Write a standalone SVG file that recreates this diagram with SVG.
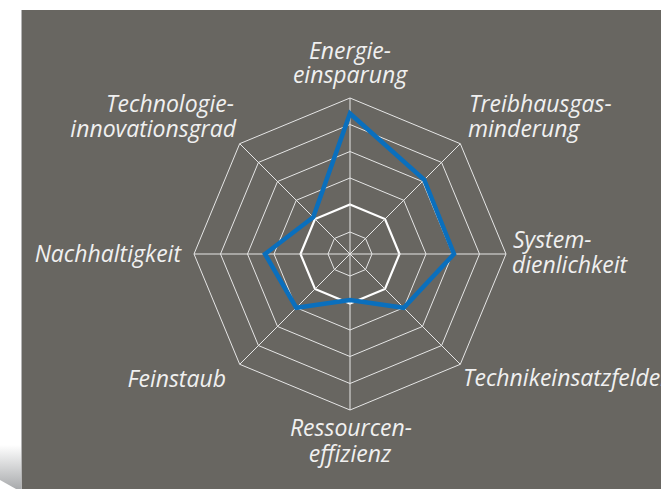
<svg xmlns="http://www.w3.org/2000/svg" width="661" height="489" viewBox="0 0 661 489">
<defs>
<linearGradient id="curl" x1="0" y1="0" x2="0" y2="1">
<stop offset="0" stop-color="#ffffff"/>
<stop offset="1" stop-color="#a9abad"/>
</linearGradient>
<style>
.lbl{font-family:"Open Sans","DejaVu Sans",sans-serif;font-style:italic;font-size:23px;fill:#f0f0f0}
.ring{fill:none;stroke:#e6e6e6;stroke-width:1}
.ring2{fill:none;stroke:#ffffff;stroke-width:2.2}
.spoke{stroke:#e6e6e6;stroke-width:1}
.data{fill:none;stroke:#0a6fbd;stroke-width:4.5;stroke-linejoin:miter}
</style>
</defs>
<rect x="0" y="0" width="661" height="489" fill="#ffffff"/>
<path d="M0,445 L22,445 L22,489 L16,489 L0,480 Z" fill="url(#curl)"/>
<rect x="22" y="10" width="639" height="479" fill="#686661"/>
<line x1="21.5" y1="10" x2="21.5" y2="489" stroke="#b5b5b5" stroke-width="1"/>
<g id="grid">
<polygon class="ring" points="350,98 460.31,143.69 506,254 460.31,364.31 350,410 239.69,364.31 194,254 239.69,143.69"/>
<polygon class="ring" points="350,124.5 441.57,162.43 479.5,254 441.57,345.57 350,383.5 258.43,345.57 220.5,254 258.43,162.43"/>
<polygon class="ring" points="350,151.5 422.48,181.52 452.5,254 422.48,326.48 350,356.5 277.52,326.48 247.5,254 277.52,181.52"/>
<polygon class="ring" points="350,178 403.74,200.26 426,254 403.74,307.74 350,330 296.26,307.74 274,254 296.26,200.26"/>
<polygon class="ring2" points="350,204.5 385,219 399.5,254 385,289 350,303.5 315,289 300.5,254 315,219"/>
<polygon class="ring" points="350,232 365.56,238.44 372,254 365.56,269.56 350,276 334.44,269.56 328,254 334.44,238.44"/>
<line class="spoke" x1="350" y1="254" x2="350" y2="98"/>
<line class="spoke" x1="350" y1="254" x2="460.31" y2="143.69"/>
<line class="spoke" x1="350" y1="254" x2="506" y2="254"/>
<line class="spoke" x1="350" y1="254" x2="460.31" y2="364.31"/>
<line class="spoke" x1="350" y1="254" x2="350" y2="410"/>
<line class="spoke" x1="350" y1="254" x2="239.69" y2="364.31"/>
<line class="spoke" x1="350" y1="254" x2="194" y2="254"/>
<line class="spoke" x1="350" y1="254" x2="239.69" y2="143.69"/>
</g>
<g id="series">
<polygon class="data" points="350,113.5 424.25,179.75 454,254 403.74,307.74 350,300 296.26,307.74 265,254 313.23,217.23"/>
</g>
<g id="label-energie"><text class="lbl" x="350" y="59" text-anchor="middle">Energie-</text><text class="lbl" x="350" y="83" text-anchor="middle">einsparung</text></g>
<g id="label-treibhaus"><text class="lbl" x="469" y="112">Treibhausgas-</text><text class="lbl" x="468" y="137">minderung</text></g>
<g id="label-system"><text class="lbl" x="513" y="248">System-</text><text class="lbl" x="512" y="273">dienlichkeit</text></g>
<g id="label-technik"><text class="lbl" x="463" y="386">Technikeinsatzfelder</text></g>
<g id="label-ressourcen"><text class="lbl" x="351" y="436" text-anchor="middle">Ressourcen-</text><text class="lbl" x="350" y="462" text-anchor="middle">effizienz</text></g>
<g id="label-feinstaub"><text class="lbl" x="226" y="387" text-anchor="end">Feinstaub</text></g>
<g id="label-nachhaltigkeit"><text class="lbl" x="181" y="262" text-anchor="end">Nachhaltigkeit</text></g>
<g id="label-technologie"><text class="lbl" x="234" y="112" text-anchor="end">Technologie-</text><text class="lbl" x="236" y="137" text-anchor="end">innovationsgrad</text></g>
</svg>
